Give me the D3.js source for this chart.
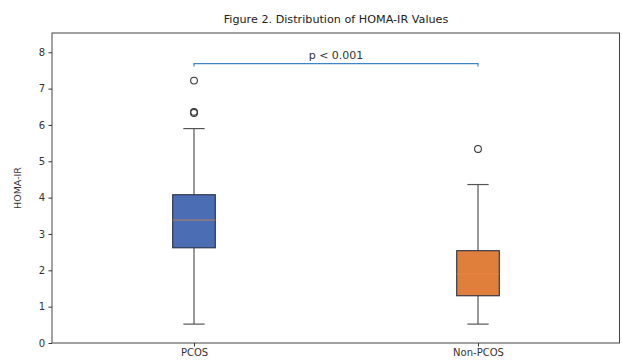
<!DOCTYPE html>
<html>
<head>
<meta charset="utf-8">
<script src="https://cdn.jsdelivr.net/npm/d3@7"></script>
<style>
  html, body { margin: 0; padding: 0; background: #fff; }
  svg { display: block; font-family: "DejaVu Sans", sans-serif; }
</style>
</head>
<body>
<svg id="chart" width="622" height="360"></svg>
<script>
// Groups and their five-number summaries (HOMA-IR)
const groups = ["PCOS", "Non-PCOS"];
const q1 = [2.62, 1.30];
const median = [3.38, 1.90];
const q3 = [4.08, 2.54];
const whiskerLow = [0.52, 0.52];
const whiskerHigh = [5.90, 4.36];
const outliers = [[7.22, 6.33, 6.36], [5.34]];
const fills = ["#4A6DB4", "#E07E3C"];
const yTicks = [0, 1, 2, 3, 4, 5, 6, 7, 8];
const pValueText = "p < 0.001";
const bracketLevel = 7.69;

const svg = d3.select("#chart");
const margin = { left: 52, right: 2, top: 33, bottom: 17 };
const W = 622, H = 360;

// Positions 1 and 2 on a 0.5–2.5 axis, box width 0.15
const x = d3.scaleLinear().domain([0.5, 2.5]).range([margin.left, W - margin.right]);
const y = d3.scaleLinear().domain([0, 8.53]).range([H - margin.bottom, margin.top]);
const boxW = 0.15;

const g = svg.append("g");

// Title
svg.append("text")
  .attr("x", (x.range()[0] + x.range()[1]) / 2)
  .attr("y", 23)
  .attr("text-anchor", "middle")
  .attr("font-size", 11.2)
  .attr("fill", "#222")
  .text("Figure 2. Distribution of HOMA-IR Values");

// Y axis
const yAxis = d3.axisLeft(y).tickValues(yTicks).tickSize(3.5).tickPadding(3.5).tickFormat(d3.format("d"));
const ya = g.append("g").attr("transform", `translate(${margin.left},0)`).call(yAxis);
ya.select(".domain").remove();
ya.selectAll("text").attr("font-size", 10).attr("fill", "#333").attr("font-family", "DejaVu Sans, sans-serif");
ya.selectAll("line").attr("stroke", "#333");

// X axis
const xAxis = d3.axisBottom(x).tickValues([1, 2]).tickSize(3.5).tickPadding(2.5).tickFormat((d, i) => groups[i]);
const xa = g.append("g").attr("transform", `translate(0,${H - margin.bottom})`).call(xAxis);
xa.select(".domain").remove();
xa.selectAll("text").attr("font-size", 10).attr("fill", "#333").attr("font-family", "DejaVu Sans, sans-serif");
xa.selectAll("line").attr("stroke", "#333");

// Y label
svg.append("text")
  .attr("transform", `translate(21,${(y.range()[0] + y.range()[1]) / 2}) rotate(-90)`)
  .attr("text-anchor", "middle")
  .attr("font-size", 9.5)
  .attr("fill", "#333")
  .text("HOMA-IR");

// Boxes
groups.forEach((name, i) => {
  const pos = i + 1;
  const bg = g.append("g");
  // whiskers
  bg.append("line").attr("x1", x(pos)).attr("x2", x(pos))
    .attr("y1", y(q1[i])).attr("y2", y(whiskerLow[i]))
    .attr("stroke", "#555").attr("stroke-width", 1.2);
  bg.append("line").attr("x1", x(pos)).attr("x2", x(pos))
    .attr("y1", y(q3[i])).attr("y2", y(whiskerHigh[i]))
    .attr("stroke", "#555").attr("stroke-width", 1.2);
  // caps
  [whiskerLow[i], whiskerHigh[i]].forEach(v => {
    bg.append("line")
      .attr("x1", x(pos - boxW / 4)).attr("x2", x(pos + boxW / 4))
      .attr("y1", y(v)).attr("y2", y(v))
      .attr("stroke", "#555").attr("stroke-width", 1.2);
  });
  // box
  bg.append("rect")
    .attr("x", x(pos - boxW / 2)).attr("width", x(pos + boxW / 2) - x(pos - boxW / 2))
    .attr("y", y(q3[i])).attr("height", y(q1[i]) - y(q3[i]))
    .attr("fill", fills[i]).attr("stroke", "#2a2f45").attr("stroke-width", 1.1);
  // median
  bg.append("line")
    .attr("x1", x(pos - boxW / 2)).attr("x2", x(pos + boxW / 2))
    .attr("y1", y(median[i])).attr("y2", y(median[i]))
    .attr("stroke", "#F08A3C").attr("stroke-width", 1.2).attr("opacity", 0.55);
  // outliers
  outliers[i].forEach(v => {
    bg.append("circle").attr("cx", x(pos)).attr("cy", y(v)).attr("r", 3.4)
      .attr("fill", "none").attr("stroke", "#333").attr("stroke-width", 1.1);
  });
});

// Significance bracket
const bk = g.append("g");
const by = y(bracketLevel);
bk.append("path")
  .attr("d", `M${x(1)},${by + 3}V${by}H${x(2)}V${by + 3}`)
  .attr("fill", "none").attr("stroke", "#3d86c6").attr("stroke-width", 1.2);
bk.append("text")
  .attr("x", (x(1) + x(2)) / 2).attr("y", by - 5)
  .attr("text-anchor", "middle").attr("font-size", 11).attr("fill", "#333")
  .text(pValueText);

// Frame
svg.append("rect")
  .attr("x", x.range()[0]).attr("y", y.range()[1])
  .attr("width", x.range()[1] - x.range()[0] - 0.5)
  .attr("height", y.range()[0] - y.range()[1])
  .attr("fill", "none").attr("stroke", "#444").attr("stroke-width", 1);
</script>
</body>
</html>
